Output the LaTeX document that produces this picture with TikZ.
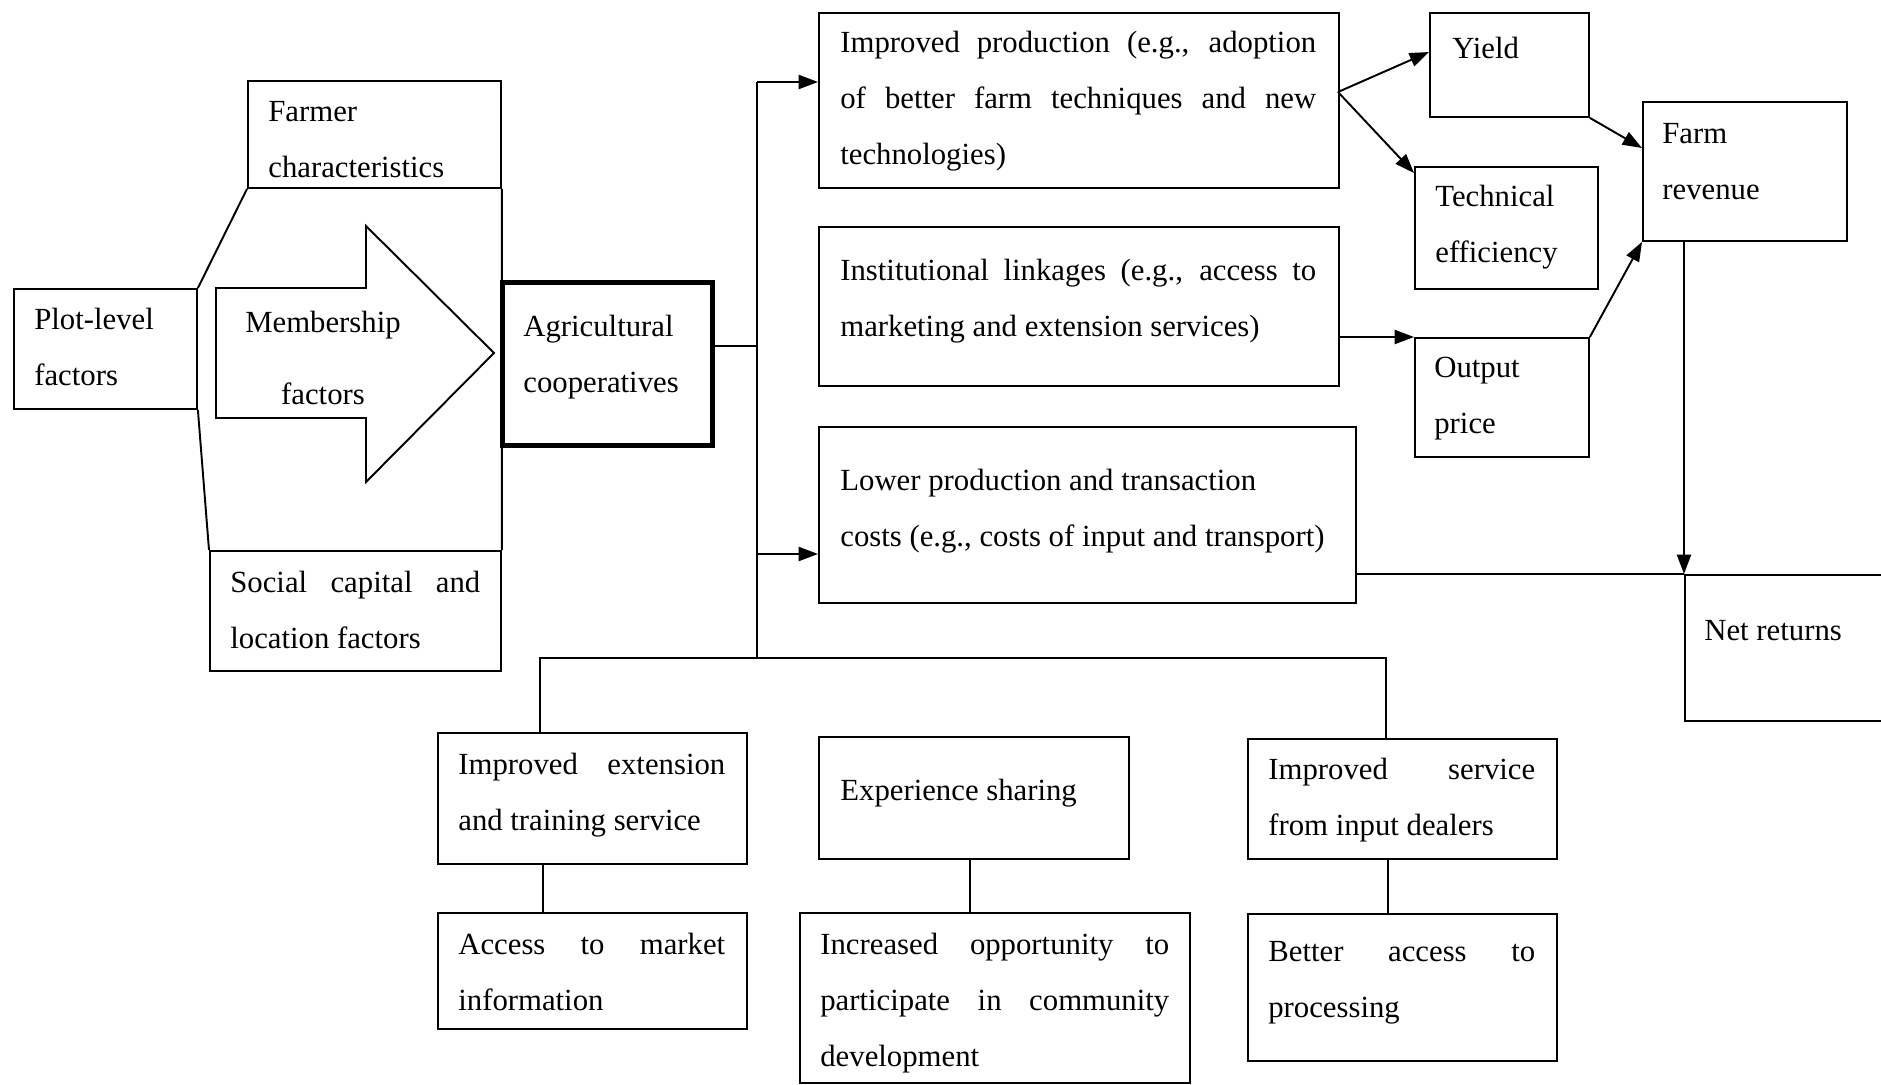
\documentclass[tikz,border=0pt]{standalone}
\usepackage{fontspec}
\setmainfont{Liberation Serif}
\usetikzlibrary{arrows.meta, calc}
\hyphenpenalty=10000

\begin{document}
\begin{tikzpicture}[x=0.02cm, y=-0.02cm,
    box/.style={draw, line width=1.1pt, anchor=north west, inner sep=0pt},
    txt/.style={anchor=north west, inner sep=0pt, align=left,
        font=\fontsize{17.5}{31.7}\selectfont},
    jtxt/.style={txt, align=justify},
    link/.style={line width=1.1pt},
    arr/.style={link, -{Triangle[length=11pt, width=8pt]}}]
    \useasboundingbox (0,0) rectangle (1881,1085);
    \clip (0,0) rectangle (1881,1085);

    % --- LEFT: FACTORS AND COOPERATIVES ---
    \node[box, minimum width=3.66cm, minimum height=2.40cm] (plot) at (13,288) {};
    \node[txt] (plot-t) at (34,308) {Plot-level\\factors};

    \node[box, minimum width=5.06cm, minimum height=2.14cm] (farmer) at (247,80) {};
    \node[txt] (farmer-t) at (268,101) {Farmer\\characteristics};

    \node[box, minimum width=5.82cm, minimum height=2.40cm] (social) at (209,550) {};
    \node[jtxt, text width=5.0cm] (social-t) at (230,571) {Social capital and\linebreak location factors};

    % Membership arrow
    \draw[line width=1.1pt] (216,288) -- (366,288) -- (366,226) -- (494,353)
        -- (366,482) -- (366,418) -- (216,418) -- cycle;
    \node[txt, anchor=north, align=center] (memb-t) at (323,311) {Membership\\[9pt]factors};

    \node[box, line width=2.6pt, minimum width=4.20cm, minimum height=3.26cm] (agri) at (500,280) {};
    \node[txt] (agri-t) at (523,315) {Agricultural\\cooperatives};

    \draw[link] (plot.north east) -- (farmer.south west);
    \draw[link] (plot.south east) -- (social.north west);
    \draw[link] (farmer.south east) -- (social.north east);

    % --- MIDDLE: CHANNELS ---
    \node[box, minimum width=10.40cm, minimum height=3.50cm] (prod) at (818,12) {};
    \node[jtxt, text width=9.52cm] (prod-t) at (840,31) {Improved production (e.g., adoption\linebreak of better farm techniques and new\linebreak technologies)};

    \node[box, minimum width=10.40cm, minimum height=3.18cm] (inst) at (818,226) {};
    \node[jtxt, text width=9.52cm] (inst-t) at (840,259) {Institutional linkages (e.g., access to\linebreak marketing and extension services)};

    \node[box, minimum width=10.74cm, minimum height=3.52cm] (lower) at (818,426) {};
    \node[txt] (lower-t) at (840,469) {Lower production and transaction\\costs (e.g., costs of input and transport)};

    \coordinate (hub) at (757,346);
    \coordinate (jtop) at (757,82);
    \coordinate (jlow) at (757,554);
    \coordinate (jbot) at (757,658);
    \draw[link] (agri.east |- hub) -- (hub);
    \draw[link] (jtop) -- (jbot);
    \draw[arr] (jtop) -- (prod.west |- jtop);
    \draw[arr] (jlow) -- (lower.west |- jlow);

    % --- RIGHT: OUTCOMES ---
    \node[box, minimum width=3.18cm, minimum height=2.08cm] (yield) at (1429,12) {};
    \node[txt] (yield-t) at (1452,37) {Yield};

    \node[box, minimum width=3.66cm, minimum height=2.44cm] (tech) at (1414,166) {};
    \node[txt] (tech-t) at (1435,185) {Technical\\efficiency};

    \node[box, minimum width=4.08cm, minimum height=2.78cm] (farmrev) at (1642,101) {};
    \node[txt] (farmrev-t) at (1662,123) {Farm\\revenue};

    \node[box, minimum width=3.48cm, minimum height=2.38cm] (output) at (1414,337) {};
    \node[txt] (output-t) at (1434,357) {Output\\price};

    \node[box, minimum width=6.00cm, minimum height=2.92cm] (net) at (1684,574) {};
    \node[txt] (net-t) at (1704,620) {Net returns};

    \coordinate (pout) at (1338,92);
    \draw[arr] (pout) -- (yield.west |- 0,52);
    \draw[arr] (pout) -- ($(tech.north west)+(0,7)$);
    \draw[arr] (yield.south east) -- (farmrev.west |- 0,148);
    \draw[arr] (output.north east) -- (farmrev.south west);
    \draw[arr] (inst.east |- output.north west) -- (output.north west);
    \draw[arr] (farmrev.south -| net.west) -- (net.north west);
    \draw[link] (lower.east |- net.north) -- (net.north west);

    % --- BOTTOM: SERVICES ---
    \node[box, minimum width=6.18cm, minimum height=2.62cm] (ext) at (437,732) {};
    \node[jtxt, text width=5.34cm] (ext-t) at (458,753) {Improved extension\linebreak and training service};

    \node[box, minimum width=6.20cm, minimum height=2.44cm] (exp) at (818,736) {};
    \node[txt] (exp-t) at (840,779) {Experience sharing};

    \node[box, minimum width=6.18cm, minimum height=2.40cm] (service) at (1247,738) {};
    \node[jtxt, text width=5.34cm] (service-t) at (1268,758) {Improved service\linebreak from input dealers};

    \node[box, minimum width=6.18cm, minimum height=2.32cm] (access) at (437,912) {};
    \node[jtxt, text width=5.34cm] (access-t) at (458,933) {Access to market\linebreak information};

    \node[box, minimum width=7.80cm, minimum height=3.40cm] (incr) at (799,912) {};
    \node[jtxt, text width=6.98cm] (incr-t) at (820,933) {Increased opportunity to\linebreak participate in community\linebreak development};

    \node[box, minimum width=6.18cm, minimum height=2.94cm] (better) at (1247,913) {};
    \node[jtxt, text width=5.34cm] (better-t) at (1268,941) {Better access to\linebreak processing};

    \coordinate (jl) at (540,658);
    \coordinate (jr) at (1386,658);
    \draw[link] (ext.north -| jl) -- (jl) -- (jr) -- (service.north -| jr);
    \draw[link] (ext.south -| 543,0) -- (access.north -| 543,0);
    \draw[link] (exp.south -| 970,0) -- (incr.north -| 970,0);
    \draw[link] (service.south -| 1388,0) -- (better.north -| 1388,0);
\end{tikzpicture}
\end{document}
